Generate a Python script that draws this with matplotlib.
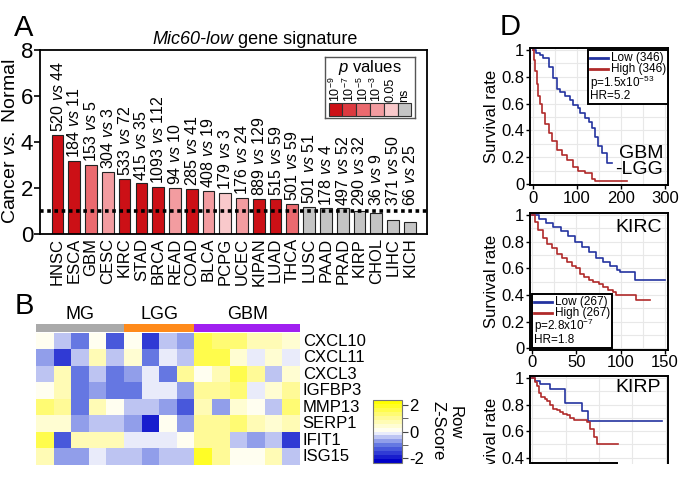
import numpy as np
import matplotlib
matplotlib.use('Agg')
import matplotlib.pyplot as plt
from matplotlib.colors import LinearSegmentedColormap, ListedColormap
from matplotlib.patches import Rectangle
from matplotlib.lines import Line2D
from matplotlib.ticker import MultipleLocator
from matplotlib.offsetbox import AnchoredOffsetbox, VPacker, HPacker, TextArea, DrawingArea

plt.rcParams['font.family'] = ['Liberation Sans', 'DejaVu Sans']
plt.rcParams['mathtext.fontset'] = 'custom'
plt.rcParams['mathtext.rm'] = 'Liberation Sans'
plt.rcParams['mathtext.it'] = 'Liberation Sans:italic'
plt.rcParams['mathtext.bf'] = 'Liberation Sans:bold'

# ---- panel A data
cancers = ['HNSC', 'ESCA', 'GBM', 'CESC', 'KIRC', 'STAD', 'BRCA', 'READ', 'COAD',
           'BLCA', 'PCPG', 'UCEC', 'KIPAN', 'LUAD', 'THCA', 'LUSC', 'PAAD', 'PRAD',
           'KIRP', 'CHOL', 'LIHC', 'KICH']
ratio = [4.3, 3.15, 2.98, 2.7, 2.38, 2.18, 2.03, 1.97, 1.94, 1.85, 1.78, 1.56,
         1.5, 1.5, 1.3, 1.16, 1.09, 1.09, 1.0, 0.88, 0.58, 0.48]
n_tumor = [520, 184, 153, 304, 533, 415, 1093, 94, 285, 408, 179, 176, 889, 515,
           501, 501, 178, 497, 290, 36, 371, 66]
n_normal = [44, 11, 5, 3, 72, 35, 112, 10, 41, 19, 3, 24, 129, 59, 59, 51, 4, 52,
            32, 9, 50, 25]
p_class = [0, 0, 2, 3, 0, 0, 0, 3, 0, 3, 4, 3, 0, 0, 2, 5, 5, 5, 5, 5, 5, 5]
p_labels = ['10$^{-9}$', '10$^{-7}$', '10$^{-5}$', '10$^{-3}$', '0.05', 'ns']
p_colors = ['#cc1016', '#dc3a40', '#eb6a6f', '#f39ca0', '#f9c9cb', '#c4c4c4']

# ---- panel B data (row z-scores)
genes = ['CXCL10', 'CXCL11', 'CXCL3', 'IGFBP3', 'MMP13', 'SERP1', 'IFIT1', 'ISG15']
cxcl10 = [0.2, -0.5, -1.0, 0.1, -1.4, 0.1, -1.6, -0.5, -0.8, 1.6, 1.3, 1.2, 0.7, 0.7, 0.5]
cxcl11 = [-0.9, -1.6, -0.6, 0.8, -0.4, 0.5, -1.1, -0.2, -0.6, 1.5, 1.5, 0.4, -0.2, 0.4, -0.2]
cxcl3 = [-0.6, 0.8, -1.0, -0.5, -1.1, -0.8, -0.3, -1.1, 1.0, 0.05, 0.8, 1.5, 0.9, -0.5, 0.5]
igfbp3 = [0.2, 0.8, -1.2, -0.8, -1.0, -1.1, -0.3, -0.3, -0.9, 1.0, 0.9, 1.3, -0.2, 0.5, 0.9]
mmp13 = [1.2, 1.0, -1.1, 0.8, 0.1, -0.6, -0.5, -0.9, -1.3, 0.6, -0.8, 0.3, 0.2, -0.5, 1.3]
serp1 = [0.3, 0.4, -0.9, -0.6, -0.5, -0.8, -1.9, 0.2, -0.9, 1.0, 1.0, 1.3, 0.8, 0.3, 0.8]
ifit1 = [1.5, -1.5, 0.7, 0.6, 0.6, -0.1, -0.1, -0.2, 0.1, 1.0, 1.0, -0.4, -0.7, -0.6, -1.7]
isg15 = [0.7, -0.8, -0.9, -0.2, -0.4, -0.4, -0.7, -0.4, -0.6, 1.8, 1.0, 0.2, 0.2, 0.8, -0.6]
groups = ['MG', 'LGG', 'GBM']
group_size = [5, 4, 6]
group_colors = ['#aaaaaa', '#ff8a1a', '#a020f0']

# ---- panel D data (Kaplan-Meier steps)
gl_low_t = [0, 8, 17, 24, 36, 47, 55, 62, 73, 85, 92, 104, 108, 119, 127, 134, 142, 149, 157, 168, 180]
gl_low_s = [1, 0.98, 0.96, 0.94, 0.875, 0.79, 0.71, 0.69, 0.66, 0.63, 0.59, 0.565, 0.53, 0.49,
            0.465, 0.415, 0.35, 0.28, 0.23, 0.155, 0.155]
gl_high_t = [0, 3, 6, 9, 13, 17, 22, 28, 36, 43, 55, 66, 77, 92, 104, 119, 134, 142, 214]
gl_high_s = [1, 0.925, 0.84, 0.75, 0.66, 0.6, 0.53, 0.45, 0.38, 0.32, 0.25, 0.22, 0.18, 0.13,
             0.1, 0.08, 0.04, 0.02, 0.02]
kirc_low_t = [0, 8, 16, 24, 32, 40, 48, 56, 64, 72, 80, 88, 96, 99, 116, 150]
kirc_low_s = [1, 0.97, 0.94, 0.91, 0.88, 0.84, 0.8, 0.76, 0.72, 0.68, 0.65, 0.62, 0.59, 0.574,
              0.51, 0.51]
kirc_high_t = [0, 3, 7, 12, 17, 22, 28, 34, 39, 45, 50, 54, 58, 64, 69, 75, 80, 86, 91, 95, 117, 133]
kirc_high_s = [1, 0.95, 0.89, 0.83, 0.78, 0.75, 0.71, 0.68, 0.65, 0.62, 0.6, 0.56, 0.535, 0.515,
               0.5, 0.48, 0.46, 0.44, 0.425, 0.4, 0.36, 0.36]
kirp_low_t = [0, 5, 12, 27, 49, 74, 84, 194]
kirp_low_s = [1, 0.98, 0.955, 0.92, 0.81, 0.75, 0.68, 0.68]
kirp_high_t = [0, 4, 7, 11, 14, 19, 22, 27, 32, 37, 42, 47, 52, 57, 62, 82, 87, 92, 97, 129]
kirp_high_s = [1, 0.97, 0.94, 0.89, 0.86, 0.84, 0.83, 0.8, 0.77, 0.76, 0.745, 0.73, 0.72, 0.7,
               0.684, 0.67, 0.62, 0.56, 0.5, 0.5]

W, H = 692, 482


def box(l, t, r, b):
    return [l / W, 1 - b / H, (r - l) / W, (b - t) / H]


fig = plt.figure(figsize=(W / 100, H / 100), dpi=100)

# ================= A =================
ax = fig.add_axes(box(40, 50, 427, 233.5))
x = np.arange(len(cancers))
ax.bar(x, ratio, width=0.7, color=[p_colors[c] for c in p_class],
       edgecolor='#222222', linewidth=0.8, zorder=2)
ax.axhline(1, color='black', ls=(0, (1.0, 1.0)), lw=2.6, zorder=3)
for i in range(len(cancers)):
    ax.text(i, max(ratio[i], 1.05) + 0.13,
            '%d $\\mathit{vs}$ %d' % (n_tumor[i], n_normal[i]),
            rotation=90, ha='center', va='bottom', fontsize=11.5)
ax.set_xlim(-1.044, 22.03)
ax.set_ylim(0, 8)
ax.set_yticks([0, 2, 4, 6, 8])
ax.set_xticks(x)
ax.set_xticklabels(cancers, rotation=90, fontsize=12)
ax.tick_params(axis='x', length=0, pad=3)
ax.tick_params(axis='y', labelsize=16, length=4, width=1.2, pad=1)
for sp in ax.spines.values():
    sp.set_linewidth(1.3)
ax.set_ylabel('Cancer $\\mathit{vs.}$ Normal', fontsize=14, labelpad=1)
ax.text(0.499, 1.033, 'Mic60-low', style='italic', ha='right', va='baseline',
        fontsize=13, transform=ax.transAxes)
ax.text(0.499, 1.033, ' gene signature', ha='left', va='baseline',
        fontsize=13, transform=ax.transAxes)

# p-value legend box
lax = fig.add_axes(box(325, 57, 415, 118))
lax.set_xlim(0, 90)
lax.set_ylim(61, 0)
lax.set_xticks([])
lax.set_yticks([])
for sp in lax.spines.values():
    sp.set_linewidth(1.0)
    sp.set_color('#555555')
for i in range(6):
    lax.add_patch(Rectangle((3.5 + i * 13.8, 46), 13.8, 13, facecolor=p_colors[i],
                            edgecolor='#333333', lw=0.8))
    lax.text(3.5 + i * 13.8 + 6.9, 44.5, p_labels[i], rotation=90, ha='center',
             va='bottom', fontsize=9)
lax.text(45, 1, '$\\mathit{p}$ values', ha='center', va='top', fontsize=12)

# ================= B =================
z = np.array([cxcl10, cxcl11, cxcl3, igfbp3, mmp13, serp1, ifit1, isg15])
cmap = LinearSegmentedColormap.from_list(
    'bwy', ['#0000c8', '#5a6ee0', '#ffffff', '#fffa90', '#ffff00'], N=16)
hax = fig.add_axes(box(36, 333, 300, 465))
im = hax.imshow(z, cmap=cmap, vmin=-2.4, vmax=2.4, aspect='auto',
                interpolation='nearest')
hax.axis('off')
for i, g in enumerate(genes):
    hax.text(z.shape[1] - 0.5 + 0.15, i, g, ha='left', va='center', fontsize=12)

grp = np.repeat(np.arange(3), group_size)[None, :]
aax = fig.add_axes(box(36, 324, 300, 332))
aax.imshow(grp, cmap=ListedColormap(group_colors), aspect='auto',
           interpolation='nearest')
aax.axis('off')
start = 0
for g, n in zip(groups, group_size):
    aax.text(start + n / 2 - 0.5, -0.6, g, ha='center', va='bottom', fontsize=13)
    start += n

cax = fig.add_axes(box(373, 400, 402, 463))
cb = fig.colorbar(im, cax=cax, ticks=[-2, 0, 2])
cb.ax.set_yticklabels(['-2', '0', '2'])
cb.ax.yaxis.set_minor_locator(MultipleLocator(1))
cb.ax.tick_params(which='both', labelsize=12, length=4, color='#444444', pad=1)
cb.outline.set_linewidth(0.8)
cb.outline.set_edgecolor('#777777')
fig.text(455 / W, 1 - 423 / H, 'Row', rotation=270, ha='center', va='center', fontsize=12)
fig.text(438 / W, 1 - 431 / H, 'Z-Score', rotation=270, ha='center', va='center', fontsize=12)

# ================= D =================
blue = '#2433a0'
red = '#b02a2a'


def km_legend(ax, n, p_text, hr, loc, anchor):
    rows = []
    for col, lab in [(blue, 'Low (%d)' % n), (red, 'High (%d)' % n)]:
        da = DrawingArea(13, 7, 0, 0)
        da.add_artist(Line2D([0, 13], [3.5, 3.5], color=col, lw=2))
        rows.append(HPacker(children=[da, TextArea(lab, textprops=dict(size=8.5))],
                            pad=0, sep=2, align='center'))
    rows.append(TextArea(p_text, textprops=dict(size=8.5)))
    rows.append(TextArea('HR=%s' % hr, textprops=dict(size=8.5)))
    pk = VPacker(children=rows, pad=0, sep=-1, align='left')
    ab = AnchoredOffsetbox(loc=loc, child=pk, pad=0.15, borderpad=0,
                           frameon=True, bbox_to_anchor=anchor,
                           bbox_transform=ax.transAxes)
    ab.patch.set_edgecolor('black')
    ab.patch.set_linewidth(1.4)
    ab.patch.set_boxstyle('square', pad=0)
    ax.add_artist(ab)


def km_axes(rect, xlim, xticks, xminor, yticks, lt, ls, ht, hs):
    a = fig.add_axes(rect)
    a.step(lt, ls, where='post', color=blue, lw=1.2)
    a.step(ht, hs, where='post', color=red, lw=1.2)
    a.set_xlim(*xlim)
    a.set_ylim(-0.0075, 1.015)
    a.set_xticks(xticks)
    a.set_yticks(yticks)
    a.set_yticklabels(['%g' % v for v in yticks])
    a.xaxis.set_minor_locator(MultipleLocator(xminor))
    a.yaxis.set_minor_locator(MultipleLocator(0.1))
    a.grid(True, which='both', color='#e8e8e8', lw=0.8)
    a.set_axisbelow(True)
    a.tick_params(which='major', labelsize=12, length=3, width=1, pad=1)
    a.tick_params(which='minor', length=0)
    for sp in a.spines.values():
        sp.set_linewidth(1.4)
    a.set_ylabel('Survival rate', fontsize=12, labelpad=2)
    return a


yt_full = [0, 0.2, 0.4, 0.6, 0.8, 1]
d1 = km_axes(box(530, 48, 668, 185), (-6, 307), [0, 100, 200, 300], 50, yt_full,
             gl_low_t, gl_low_s, gl_high_t, gl_high_s)
km_legend(d1, 346, 'p=1.5x10$^{-53}$', '5.2', 'upper right', (1, 0.985))
d1.text(0.965, 0.05, 'GBM\n-LGG', transform=d1.transAxes, ha='right', va='bottom',
        fontsize=14, linespacing=0.95)

d2 = km_axes(box(530, 213, 668, 349.5), (-2.5, 153.5), [0, 50, 100, 150], 25, yt_full,
             kirc_low_t, kirc_low_s, kirc_high_t, kirc_high_s)
km_legend(d2, 267, 'p=2.8x10$^{-7}$', '1.8', 'lower left', (0.015, 0.01))
d2.text(0.955, 0.955, 'KIRC', transform=d2.transAxes, ha='right', va='top', fontsize=14)

# third panel runs off the bottom of the source figure
d3 = km_axes(box(530, 376, 668, 512), (-3, 203), [0, 100, 200], 50, [0.4, 0.6, 0.8, 1],
             kirp_low_t, kirp_low_s, kirp_high_t, kirp_high_s)
d3.tick_params(axis='x', labelbottom=False)
d3.text(0.945, 0.978, 'KIRP', transform=d3.transAxes, ha='right', va='top', fontsize=14)
d3_leg = AnchoredOffsetbox(loc='upper left', child=DrawingArea(61, 40, 0, 0), pad=0,
                           borderpad=0, frameon=True, bbox_to_anchor=(0.015, 0.36),
                           bbox_transform=d3.transAxes)
d3_leg.patch.set_edgecolor('black')
d3_leg.patch.set_linewidth(1.4)
d3_leg.patch.set_boxstyle('square', pad=0)
d3.add_artist(d3_leg)

fig.add_artist(Rectangle((463 / W, 0), 1, 18 / H, transform=fig.transFigure,
                         facecolor='white', edgecolor='none', zorder=20))

fig.text(24 / W, 1 - 28 / H, 'A', fontsize=21, ha='center', va='center')
fig.text(24 / W, 1 - 306 / H, 'B', fontsize=21, ha='center', va='center')
fig.text(510 / W, 1 - 27 / H, 'D', fontsize=21, ha='center', va='center')

fig.savefig('out.png', dpi=100)
